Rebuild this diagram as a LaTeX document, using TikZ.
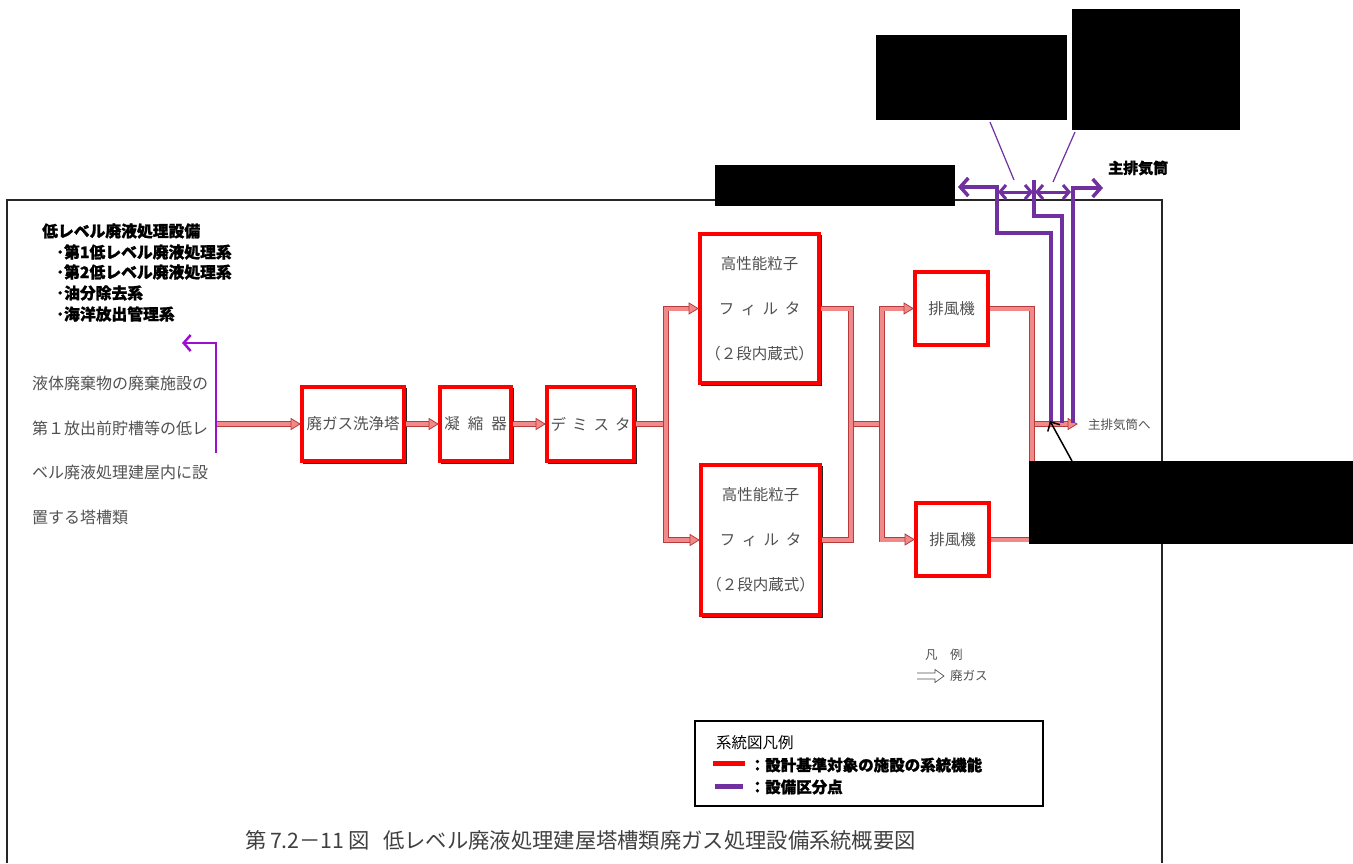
\documentclass[tikz,border=0pt]{standalone}
\usepackage{fontspec}
\newfontfamily\jp{Noto Sans CJK JP}[BoldFeatures={FakeBold=1.2}]
\usetikzlibrary{arrows.meta,calc}
\definecolor{pipeB}{HTML}{B83A3A}
\definecolor{pipeF}{HTML}{F08A8A}
\definecolor{boxred}{HTML}{FF0000}
\definecolor{purD}{HTML}{7030A0}
\definecolor{purL}{HTML}{9B10D0}
\definecolor{txtgray}{HTML}{505050}
\definecolor{capgray}{HTML}{404040}
\begin{document}
\begin{tikzpicture}[x=1pt,y=-1pt]
\tikzset{
  ubox/.style={rectangle, draw=boxred, line width=4pt, inner sep=0pt, align=center,
    text=txtgray, font=\jp\fontsize{15.5}{16}\selectfont},
  pipe/.style={draw=pipeB, line width=0.9pt, double=pipeF, double distance=4pt, line join=miter},
  ptip/.pic={\filldraw[fill=pipeF, draw=pipeB, line width=0.8pt, line join=miter] (0,0) -- (-9,-5.5) -- (-9,5.5) -- cycle;},
  lbl/.style={inner sep=0pt, anchor=west},
  boldtxt/.style={lbl, font=\jp\bfseries\fontsize{15.8}{16}\selectfont, text=black},
  graytxt/.style={lbl, font=\jp\fontsize{16}{16}\selectfont, text=txtgray},
  smalltxt/.style={lbl, font=\jp\fontsize{12.5}{13}\selectfont, text=txtgray},
  purthick/.style={draw=purD, line width=3.5pt, line join=miter},
  barbL/.tip={Straight Barb[length=8pt,width=18pt]},
  barbS/.tip={Straight Barb[length=6pt,width=14pt]},
  shadowln/.style={draw=black!85, line width=1.2pt}
}
\useasboundingbox (0,0) rectangle (1353,863);

% frame
\draw[line width=1.5pt, black!85] (7,863) -- (7,200) -- (1162,200) -- (1162,863);

% top-left text
\node[boldtxt] (t0) at (42,231) {低レベル廃液処理設備};
\node[boldtxt] (t1) at (56,252) {･第1低レベル廃液処理系};
\node[boldtxt] (t2) at (56,272) {･第2低レベル廃液処理系};
\node[boldtxt] (t3) at (56,293) {･油分除去系};
\node[boldtxt] (t4) at (56,314) {･海洋放出管理系};

% left description
\node[graytxt] (l1) at (32,383) {液体廃棄物の廃棄施設の};
\node[graytxt] (l2) at (32,428) {第１放出前貯槽等の低レ};
\node[graytxt] (l3) at (32,472) {ベル廃液処理建屋内に設};
\node[graytxt] (l4) at (32,517) {置する塔槽類};

% boxes
\node[ubox, minimum width=102pt, minimum height=74pt] (b1) at (353,424) {廃ガス洗浄塔};
\node[ubox, minimum width=71pt, minimum height=74pt] (b2) at (475.5,424) {凝\hspace{8pt}縮\hspace{8pt}器};
\node[ubox, minimum width=87pt, minimum height=74pt] (b3) at (590.5,424) {デ\hspace{6pt}ミ\hspace{6pt}ス\hspace{6pt}タ};
\node[ubox, minimum width=119pt, minimum height=149pt] (h1) at (759.5,308.5) {高性能粒子\\[29pt]フ\hspace{6.5pt}ィ\hspace{6.5pt}ル\hspace{6.5pt}タ\\[29pt]（２段内蔵式）};
\node[ubox, minimum width=119pt, minimum height=150pt] (h2) at (760.5,540) {高性能粒子\\[29pt]フ\hspace{6.5pt}ィ\hspace{6.5pt}ル\hspace{6.5pt}タ\\[29pt]（２段内蔵式）};
\node[ubox, minimum width=73pt, minimum height=73pt] (f1) at (951.5,308.5) {排風機};
\node[ubox, minimum width=73pt, minimum height=73pt] (f2) at (952.5,539.5) {排風機};

% box shadows
\foreach \n in {b1,b2,b3,h1,h2} {
  \draw[shadowln] ($(\n.north east)+(0.6,3)$) -- ($(\n.south east)+(0.6,0.6)$) -- ($(\n.south west)+(3,0.6)$);
}

% coordinates
\coordinate (src) at (216,424);
\coordinate (jL) at (666,424);
\coordinate (jM) at (851,424);
\coordinate (jN) at (882,424);
\coordinate (jR) at (1032,424);
\coordinate (outT) at (1077,424);

% pipes
\draw[pipe] (src) -- ($(b1.west)+(-9,0)$);
\draw[pipe] (b1.east) -- ($(b2.west)+(-9,0)$);
\draw[pipe] (b2.east) -- ($(b3.west)+(-9,0)$);
\draw[pipe] (b3.east) -- (jL);
\draw[pipe] ($(h1.west)+(-9,0)$) -| (jL) |- ($(h2.west)+(-9,0)$);
\draw[pipe] (jM) -- (jN);
\draw[pipe] (h1.east) -| (jM) |- (h2.east);
\draw[pipe] ($(f1.west)+(-9,0)$) -| (jN) |- ($(f2.west)+(-9,0)$);
\draw[pipe] (jR) -- ($(outT)+(-9,0)$);
\draw[pipe] (f1.east) -| (jR) |- (f2.east);
\foreach \n in {b1,b2,b3,h1,h2,f1,f2} { \pic at (\n.west) {ptip}; }
\pic at (outT) {ptip};

\node[smalltxt] (outl) at (1088,425) {主排気筒へ};

% purple (left)
\draw[draw=purL, line width=2.5pt, line join=miter, -{Straight Barb[length=7pt,width=16pt]}] (216,453) |- (182,343);

% purple (right)
\draw[purthick, -barbL] (1051,423) |- (997,233) |- (958,187);
\draw[purthick] (1062,423) |- (1034,216) -- (1034,180);
\draw[purthick, -barbL] (1073,423) |- (1103,188);
\draw[draw=purD, line width=3pt, barbS-barbS] (998,192) -- (1033,192);
\draw[draw=purD, line width=3pt, barbS-barbS] (1035,192) -- (1071,192);
\draw[draw=purD, line width=1.2pt] (990,122) -- (1014,180);
\draw[draw=purD, line width=1.2pt] (1075,132) -- (1053,182);
\node[lbl, font=\jp\bfseries\fontsize{15}{15}\selectfont] (stack) at (1108,168) {主排気筒};

% black callout arrow
\draw[black, line width=1.5pt, -{Straight Barb[length=7pt,width=14pt]}] (1072,461) -- (1050,421);

% small legend
\node[smalltxt] (hl) at (925,655) {凡　例};
\draw[txtgray, line width=0.7pt, line join=miter] (917,673) -- (935,673) -- (935,669.5) -- (944,676) -- (935,682.5) -- (935,679) -- (917,679);
\node[smalltxt] (hg) at (950,676) {廃ガス};

% legend box
\node[draw=black, line width=1.3pt, minimum width=348pt, minimum height=85pt, inner sep=0pt] (leg) at (869,763.5) {};
\node[lbl, font=\jp\fontsize{15.5}{16}\selectfont] (legt) at (716,743) {系統図凡例};
\draw[boxred, line width=5pt] (713,763) -- (745,763);
\node[lbl, font=\jp\bfseries\fontsize{15.5}{16}\selectfont] (leg1) at (749.5,765) {：設計基準対象の施設の系統機能};
\draw[purD, line width=5pt] (715,786) -- (743,786);
\node[lbl, font=\jp\bfseries\fontsize{15.5}{16}\selectfont] (leg2) at (749.5,787) {：設備区分点};

% caption
\node[lbl, font=\jp\fontsize{21.3}{22}\selectfont, text=capgray] (cap) at (245,840) {第\,7.2－11\,図\hspace{14pt}低レベル廃液処理建屋塔槽類廃ガス処理設備系統概要図};

% redaction boxes
\fill[black] (876,35) rectangle (1067,120);
\fill[black] (1072,9) rectangle (1240,130);
\fill[black] (715,165) rectangle (955,206);
\fill[black] (1029,461) rectangle (1353,544);
\end{tikzpicture}
\end{document}
